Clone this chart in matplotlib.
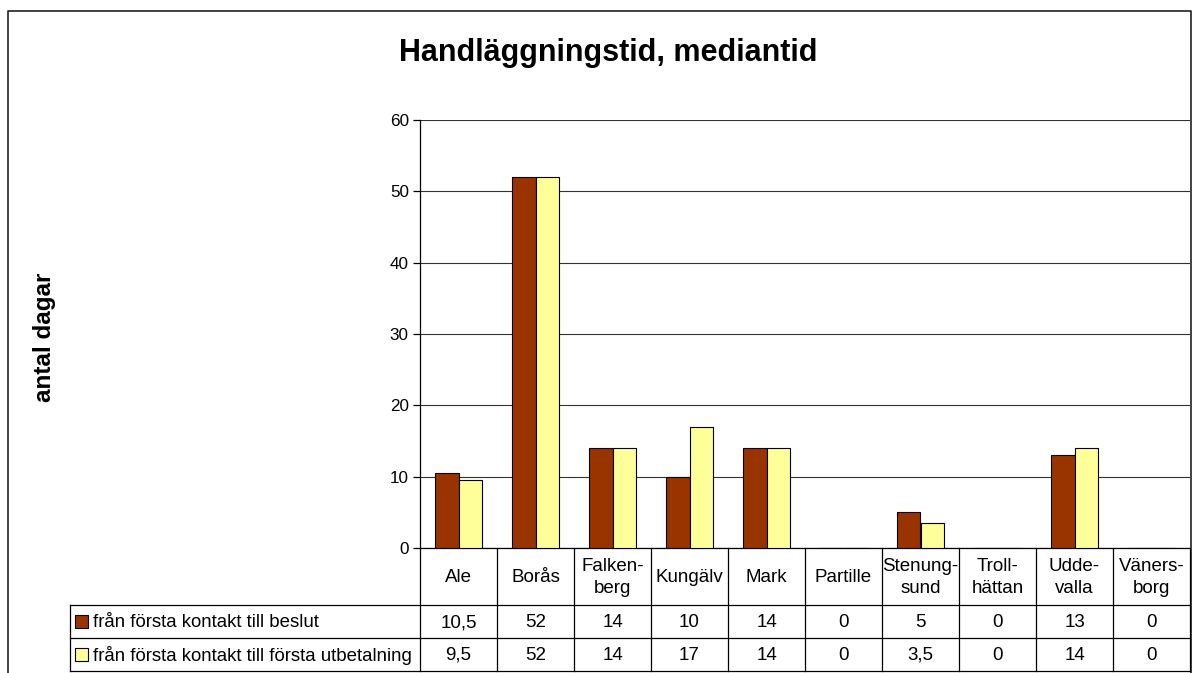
import numpy as np
import matplotlib.pyplot as plt

plt.rcParams['font.family'] = ['Liberation Sans', 'DejaVu Sans']

# data
kommuner = ['Ale', 'Borås', 'Falken-\nberg', 'Kungälv', 'Mark', 'Partille',
            'Stenung-\nsund', 'Troll-\nhättan', 'Udde-\nvalla', 'Väners-\nborg']
beslut = [10.5, 52, 14, 10, 14, 0, 5, 0, 13, 0]
utbetalning = [9.5, 52, 14, 17, 14, 0, 3.5, 0, 14, 0]
serie_namn = ['från första kontakt till beslut',
              'från första kontakt till första utbetalning']
farger = ['#993300', '#FFFF99']

W, H = 1192, 673
fig = plt.figure(figsize=(W / 100, H / 100), dpi=100)

# plot area in pixels
x0, x1 = 420, 1190
y_top, y_bot = 120, 548
ax = fig.add_axes([x0 / W, 1 - y_bot / H, (x1 - x0) / W, (y_bot - y_top) / H])

n = len(kommuner)
x = np.arange(n)
bw = 0.3
ax.bar(x - bw / 2, beslut, bw, color=farger[0], edgecolor='black', linewidth=0.8, zorder=3)
ax.bar(x + bw / 2, utbetalning, bw, color=farger[1], edgecolor='black', linewidth=0.8, zorder=3)
ax.set_xlim(-0.5, n - 0.5)
ax.set_ylim(0, 60)
ax.set_yticks(range(0, 61, 10))
ax.yaxis.grid(True, color='#333333', linewidth=0.8)
ax.set_axisbelow(True)
ax.set_xticks([])
for s in ['top', 'right']:
    ax.spines[s].set_visible(False)
ax.spines['left'].set_linewidth(0.9)
ax.spines['bottom'].set_linewidth(0.9)
ax.tick_params(axis='y', labelsize=12.3, length=5, width=0.9, pad=3)

# overlay in pixel coords for frame, title and table
ov = fig.add_axes([0, 0, 1, 1], zorder=5)
ov.set_xlim(0, W)
ov.set_ylim(H, 0)
ov.axis('off')
ov.patch.set_alpha(0)

lc = 'black'
lw = 0.9
# outer frame
ov.plot([8, 8, 1191, 1191], [H, 11, 11, H], color='#222222', lw=1.2)

ov.text(608, 53, 'Handläggningstid, mediantid', ha='center', va='center',
        fontsize=22, fontweight='bold')
ov.text(45, 337, 'antal dagar', ha='center', va='center', rotation=90,
        fontsize=17.5, fontweight='bold')

# data table
cw = (x1 - x0) / n
r0, r1, r2, r3 = 548, 605, 638, 671
tl = 70
for i in range(n + 1):
    ov.plot([x0 + i * cw] * 2, [r0, r3], color=lc, lw=lw)
ov.plot([tl, tl], [r1, r3], color=lc, lw=lw)
for yy in (r1, r2, r3):
    ov.plot([tl, x1], [yy, yy], color=lc, lw=lw)


def fmt(v):
    return (f'{v:g}').replace('.', ',')


fs = 13.5
for i, k in enumerate(kommuner):
    cx = x0 + (i + 0.5) * cw
    ov.text(cx, (r0 + r1) / 2 + 1, k, ha='center', va='center', fontsize=fs,
            linespacing=1.35)
    ov.text(cx, (r1 + r2) / 2 + 1, fmt(beslut[i]), ha='center', va='center', fontsize=fs)
    ov.text(cx, (r2 + r3) / 2 + 1, fmt(utbetalning[i]), ha='center', va='center', fontsize=fs)

for j, (namn, f) in enumerate(zip(serie_namn, farger)):
    yc = (r1 + r2) / 2 if j == 0 else (r2 + r3) / 2
    ov.add_patch(plt.Rectangle((75, yc - 6.5), 13, 13, facecolor=f, edgecolor='black', lw=0.8))
    ov.text(93, yc + 1, namn, ha='left', va='center', fontsize=13.4)

fig.savefig('out.png', dpi=100)
